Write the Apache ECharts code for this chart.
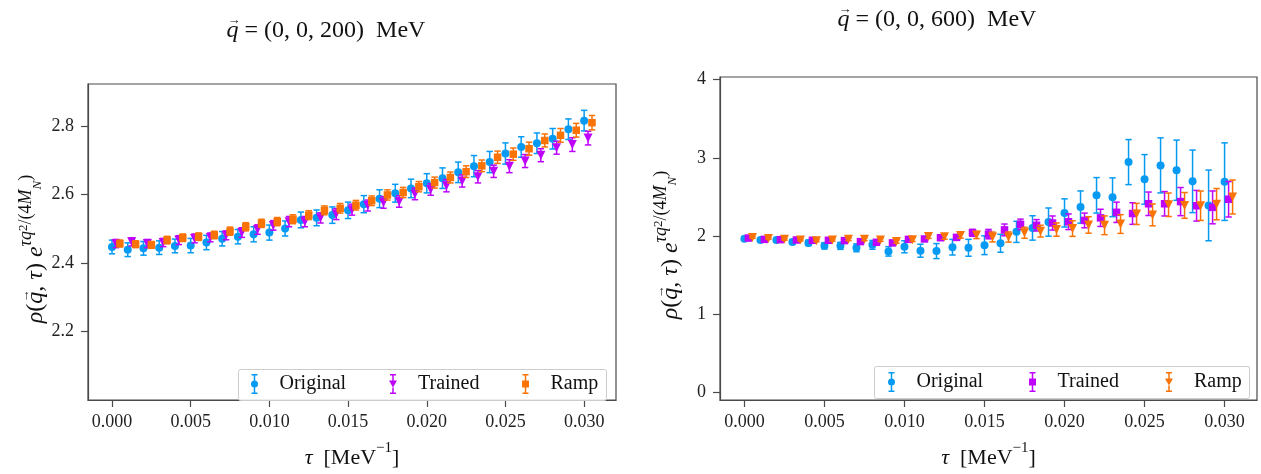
<!DOCTYPE html>
<html><head><meta charset="utf-8">
<script src="https://cdn.jsdelivr.net/npm/echarts@6.0.0/dist/echarts.min.js"></script>
<style>html,body{margin:0;padding:0;background:#fff}#c{width:1261px;height:474px}</style>
</head><body><div id="c"></div>
<script>
// ---------- DATA ----------
const TAU = [0.000,0.001,0.002,0.003,0.004,0.005,0.006,0.007,0.008,0.009,0.010,0.011,0.012,0.013,0.014,0.015,
             0.016,0.017,0.018,0.019,0.020,0.021,0.022,0.023,0.024,0.025,0.026,0.027,0.028,0.029,0.030];
const SHIFT_ORIGINAL = 0.0, SHIFT_TRAINED = 0.00025, SHIFT_RAMP = 0.0005;
const X_TICKS = [0.000,0.005,0.010,0.015,0.020,0.025,0.030];
const Y_TICKS_200 = [2.2,2.4,2.6,2.8];
const Y_TICKS_600 = [0,1,2,3,4];
const TITLE_200 = ' = (0, 0, 200)  MeV';
const TITLE_600 = ' = (0, 0, 600)  MeV';

// q = (0,0,200) MeV
const ORIG_200 = [2.447,2.439,2.443,2.445,2.450,2.451,2.460,2.471,2.477,2.484,2.489,2.501,2.526,2.532,2.540,2.554,
                  2.572,2.588,2.604,2.618,2.633,2.648,2.665,2.683,2.695,2.720,2.739,2.750,2.763,2.791,2.816];
const ORIG_200_ERR = [0.020,0.020,0.020,0.020,0.020,0.021,0.021,0.021,0.021,0.022,0.022,0.022,0.023,0.023,0.024,0.024,
                      0.025,0.026,0.026,0.027,0.028,0.030,0.030,0.031,0.031,0.031,0.030,0.030,0.030,0.030,0.030];
const TRAIN_200 = [2.457,2.462,2.457,2.460,2.467,2.472,2.475,2.481,2.489,2.498,2.510,2.521,2.521,2.532,2.543,2.556,
                   2.568,2.577,2.580,2.602,2.615,2.626,2.640,2.652,2.668,2.683,2.698,2.715,2.737,2.746,2.765];
const TRAIN_200_ERR = [0.012,0.012,0.012,0.012,0.013,0.013,0.013,0.013,0.014,0.014,0.014,0.015,0.015,0.015,0.016,0.016,
                       0.016,0.017,0.017,0.017,0.017,0.018,0.018,0.018,0.018,0.019,0.019,0.019,0.019,0.020,0.020];
const RAMP_200 = [2.457,2.455,2.453,2.467,2.474,2.477,2.482,2.493,2.506,2.516,2.521,2.528,2.540,2.554,2.560,2.569,
                  2.582,2.599,2.606,2.623,2.635,2.650,2.667,2.684,2.709,2.718,2.734,2.758,2.773,2.788,2.810];
const RAMP_200_ERR = [0.010,0.010,0.010,0.011,0.011,0.011,0.011,0.012,0.012,0.012,0.012,0.013,0.013,0.013,0.014,0.014,
                      0.014,0.015,0.015,0.015,0.016,0.016,0.017,0.017,0.018,0.018,0.019,0.019,0.020,0.020,0.021];

// q = (0,0,600) MeV
const ORIG_600 = [1.967,1.950,1.950,1.925,1.913,1.875,1.875,1.850,1.888,1.804,1.863,1.813,1.808,1.858,1.850,1.883,
                  1.908,2.054,2.104,2.179,2.296,2.371,2.521,2.496,2.946,2.725,2.904,2.842,2.700,2.392,2.696];
const ORIG_600_ERR = [0.020,0.020,0.025,0.030,0.035,0.040,0.045,0.050,0.056,0.060,0.077,0.083,0.096,0.100,0.108,0.120,
                      0.115,0.135,0.156,0.180,0.180,0.206,0.227,0.248,0.288,0.317,0.352,0.385,0.400,0.452,0.496];
const TRAIN_600 = [1.975,1.958,1.954,1.950,1.946,1.946,1.942,1.929,1.921,1.913,1.958,1.963,1.979,1.983,2.042,2.025,
                   2.079,2.150,2.138,2.167,2.183,2.200,2.233,2.304,2.288,2.413,2.413,2.441,2.388,2.367,2.471];
const TRAIN_600_ERR = [0.010,0.010,0.010,0.012,0.012,0.014,0.015,0.016,0.018,0.020,0.022,0.025,0.030,0.035,0.045,0.060,
                       0.075,0.067,0.073,0.090,0.100,0.094,0.110,0.130,0.138,0.150,0.156,0.180,0.196,0.210,0.227];
const RAMP_600 = [1.983,1.970,1.958,1.950,1.940,1.950,1.958,1.958,1.950,1.930,1.954,1.996,1.990,2.008,2.013,1.988,
                  1.988,2.042,2.063,2.083,2.096,2.142,2.138,2.154,2.283,2.271,2.400,2.392,2.388,2.408,2.500];
const RAMP_600_ERR = [0.010,0.010,0.010,0.012,0.012,0.014,0.015,0.016,0.018,0.020,0.022,0.025,0.030,0.035,0.045,0.063,
                      0.065,0.070,0.075,0.085,0.100,0.105,0.120,0.120,0.135,0.140,0.150,0.165,0.188,0.200,0.217];

// ---------- STYLE ----------
const FONT = "'Liberation Serif', 'DejaVu Serif', serif";
const AX = '#4a4a4a';
const INK = '#111';
const C_BLUE = '#069af3', C_PURPLE = '#be03fd', C_ORANGE = '#f97306';

const ICON_CIRCLE = 'path://M1,0H7V1.5H4.75V6.5H3.25V1.5H1Z M3.25,13.5H4.75V18.5H7V20H1V18.5H3.25Z M7.5,10A3.5,3.5,0,1,1,0.5,10A3.5,3.5,0,1,1,7.5,10Z';
const ICON_SQUARE = 'path://M1,0H7V1.5H4.75V6.5H3.25V1.5H1Z M3.25,13.5H4.75V18.5H7V20H1V18.5H3.25Z M0.5,6.5H7.5V13.5H0.5Z';
const ICON_TRI = 'path://M1,0H7V1.5H4.75V6.5H3.25V1.5H1Z M3.25,13.5H4.75V18.5H7V20H1V18.5H3.25Z M0,6.5H8L4,13.5Z';

function st(size, italic, extra) {
  return Object.assign({fontFamily: FONT, fontSize: size, fontStyle: italic ? 'italic' : 'normal', color: INK, fill: INK}, extra || {});
}
const RICH_Y = {
  r:   st(24, false, {lineHeight: 38}),
  i:   st(24, true,  {lineHeight: 38}),
  si:  st(18, true,  {verticalAlign: 'top', lineHeight: 20}),
  s:   st(18, false, {verticalAlign: 'top', lineHeight: 20}),
  ss:  st(13, false, {verticalAlign: 'top', lineHeight: 11}),
  sub: st(13, true,  {verticalAlign: 'top', lineHeight: 13, padding: [14, 0, 0, 0]})
};
const RICH_X = {
  r:   st(22, false, {lineHeight: 34}),
  i:   st(22, true,  {lineHeight: 34}),
  sup: st(15, false, {verticalAlign: 'top', lineHeight: 20})
};
const RICH_TITLE = { i: st(24, true, {lineHeight: 32}), r: st(24, false, {lineHeight: 32}) };

const Y_NAME_TOKENS = [['i','ρ'],['r','('],['i','q'],['r',', '],['i','τ'],['r',') '],['i','e'],
                       ['si','τq'],['ss','2'],['s','/(4'],['si','M'],['sub','N'],['s',')']];
const X_NAME = '{i|τ}{r|  [MeV}{sup|−1}{r|]}';

// text measuring to put the vector arrow over q
const mctx = document.createElement('canvas').getContext('2d');
function measure(str, s) {
  mctx.font = s.fontStyle + ' normal ' + s.fontSize + 'px ' + s.fontFamily;
  const p = s.padding ? (s.padding[1] + s.padding[3]) : 0;
  return mctx.measureText(str).width + p;
}
function mathText(tokens, rich, qIdx, cx, cy, rot, arrowSize, arrowDy, slant) {
  const w = tokens.map(([k, t]) => measure(t, rich[k]));
  const total = w.reduce((a, b) => a + b, 0);
  let left = -total / 2;
  for (let i = 0; i < qIdx; i++) left += w[i];
  const qw = measure('q', rich[tokens[qIdx][0]]);
  return {
    type: 'group', x: cx, y: cy, rotation: rot, silent: true,
    children: [
      {type: 'text', style: {text: tokens.map(([k, t]) => '{' + k + '|' + t + '}').join(''), rich, align: 'center', verticalAlign: 'middle'}},
      {type: 'text', x: left + qw / 2 + slant, y: arrowDy,
       style: {text: '→', fontFamily: FONT, fontSize: arrowSize, fill: INK, align: 'center', verticalAlign: 'middle'}}
    ]
  };
}

function xAxis(gridIndex) {
  return {
    type: 'value', gridIndex, min: -0.001525, max: 0.032025,
    axisLine: {show: true, onZero: false, lineStyle: {color: AX, width: 1.2}},
    axisTick: {show: true, length: 7, customValues: X_TICKS, lineStyle: {color: AX, width: 1.2}},
    axisLabel: {customValues: X_TICKS, formatter: v => v.toFixed(3), fontFamily: FONT, fontSize: 18, color: '#222', margin: 13},
    splitLine: {show: false},
    name: X_NAME, nameLocation: 'middle', nameGap: 41, nameTextStyle: {rich: RICH_X}
  };
}
function yAxis(gridIndex, min, max, ticks, fmt) {
  return {
    type: 'value', gridIndex, min, max,
    axisLine: {show: true, onZero: false, lineStyle: {color: AX, width: 1.2}},
    axisTick: {show: true, length: 7, customValues: ticks, lineStyle: {color: AX, width: 1.2}},
    axisLabel: {customValues: ticks, formatter: fmt, fontFamily: FONT, fontSize: 18, color: '#222', margin: 14},
    splitLine: {show: false}
  };
}

function errSeries(name, idx, shift, ys, es, color, z) {
  return {
    type: 'custom', name, xAxisIndex: idx, yAxisIndex: idx, z, silent: true,
    data: TAU.map((t, i) => [t + shift, ys[i], es[i]]),
    encode: {x: 0, y: 1},
    renderItem(params, api) {
      const x = api.value(0), y = api.value(1), e = api.value(2);
      const a = api.coord([x, y + e]), b = api.coord([x, y - e]);
      const hw = 3.2, s = {stroke: color, lineWidth: 1.5};
      return {type: 'group', children: [
        {type: 'line', shape: {x1: a[0], y1: a[1], x2: b[0], y2: b[1]}, style: s},
        {type: 'line', shape: {x1: a[0] - hw, y1: a[1], x2: a[0] + hw, y2: a[1]}, style: s},
        {type: 'line', shape: {x1: b[0] - hw, y1: b[1], x2: b[0] + hw, y2: b[1]}, style: s}
      ]};
    }
  };
}
function markSeries(name, idx, shift, ys, color, symbol, size, rotate, z) {
  return {
    type: 'scatter', name, xAxisIndex: idx, yAxisIndex: idx, z,
    data: TAU.map((t, i) => [t + shift, ys[i]]),
    symbol, symbolSize: size, symbolRotate: rotate || 0,
    itemStyle: {color, opacity: 1}, silent: true
  };
}
function legendItem(name, icon, color, left, top) {
  return {
    left, top, padding: 0, itemWidth: 40, itemHeight: 20, selectedMode: false,
    data: [{name, icon, itemStyle: {color}}],
    textStyle: {fontFamily: FONT, fontSize: 20, color: INK}
  };
}

const chart = echarts.init(document.getElementById('c'), null, {renderer: 'canvas'});
chart.setOption({
  animation: false,
  backgroundColor: '#fff',
  grid: [
    {left: 88, top: 84, width: 528, height: 326, show: true, borderColor: AX, borderWidth: 1.2, backgroundColor: 'transparent'},
    {left: 720, top: 77, width: 537, height: 331, show: true, borderColor: AX, borderWidth: 1.2, backgroundColor: 'transparent'}
  ],
  xAxis: [xAxis(0), xAxis(1)],
  yAxis: [
    yAxis(0, 2.0, 2.923, Y_TICKS_200, v => v.toFixed(1)),
    yAxis(1, -0.096, 4.034, Y_TICKS_600, v => String(v))
  ],
  legend: [
    legendItem('Original', ICON_CIRCLE, C_BLUE, 251, 374),
    legendItem('Trained', ICON_TRI, C_PURPLE, 389, 374),
    legendItem('Ramp', ICON_SQUARE, C_ORANGE, 522, 374),
    legendItem('Original', ICON_CIRCLE, C_BLUE, 888, 372),
    legendItem('Trained', ICON_SQUARE, C_PURPLE, 1029, 372),
    legendItem('Ramp', ICON_TRI, C_ORANGE, 1165, 372)
  ],
  graphic: [
    {type: 'rect', shape: {x: 238.5, y: 369.5, width: 368, height: 31, r: 2}, style: {fill: 'rgba(255,255,255,0.8)', stroke: '#cccccc', lineWidth: 1}, z: 1},
    {type: 'rect', shape: {x: 874.5, y: 366.5, width: 375, height: 32, r: 2}, style: {fill: 'rgba(255,255,255,0.8)', stroke: '#cccccc', lineWidth: 1}, z: 1},
    mathText([['i','q'],['r',TITLE_200]], RICH_TITLE, 0, 326, 31, 0, 13, -10, 1.5),
    mathText([['i','q'],['r',TITLE_600]], RICH_TITLE, 0, 937, 20, 0, 13, -10, 1.5),
    mathText(Y_NAME_TOKENS, RICH_Y, 2, 36, 249, Math.PI / 2, 13, -10, 1.6),
    mathText(Y_NAME_TOKENS, RICH_Y, 2, 671, 245, Math.PI / 2, 13, -10, 1.6)
  ],
  series: [
    errSeries('Original', 0, SHIFT_ORIGINAL, ORIG_200, ORIG_200_ERR, C_BLUE, 2),
    markSeries('Original', 0, SHIFT_ORIGINAL, ORIG_200, C_BLUE, 'circle', 8, 0, 3),
    errSeries('Trained', 0, SHIFT_TRAINED, TRAIN_200, TRAIN_200_ERR, C_PURPLE, 4),
    markSeries('Trained', 0, SHIFT_TRAINED, TRAIN_200, C_PURPLE, 'triangle', 9, 180, 5),
    errSeries('Ramp', 0, SHIFT_RAMP, RAMP_200, RAMP_200_ERR, C_ORANGE, 6),
    markSeries('Ramp', 0, SHIFT_RAMP, RAMP_200, C_ORANGE, 'rect', 7.5, 0, 7),

    errSeries('Original', 1, SHIFT_ORIGINAL, ORIG_600, ORIG_600_ERR, C_BLUE, 2),
    markSeries('Original', 1, SHIFT_ORIGINAL, ORIG_600, C_BLUE, 'circle', 8, 0, 3),
    errSeries('Trained', 1, SHIFT_TRAINED, TRAIN_600, TRAIN_600_ERR, C_PURPLE, 4),
    markSeries('Trained', 1, SHIFT_TRAINED, TRAIN_600, C_PURPLE, 'rect', 7.5, 0, 5),
    errSeries('Ramp', 1, SHIFT_RAMP, RAMP_600, RAMP_600_ERR, C_ORANGE, 6),
    markSeries('Ramp', 1, SHIFT_RAMP, RAMP_600, C_ORANGE, 'triangle', 9, 180, 7)
  ]
});
</script></body></html>
